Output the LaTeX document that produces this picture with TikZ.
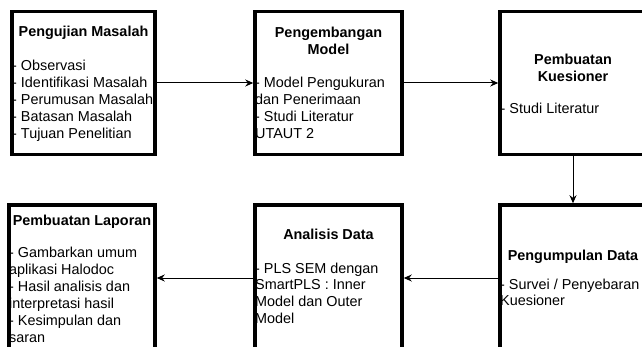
\documentclass[tikz,border=0pt]{standalone}
\usepackage{fontspec}
\setmainfont{Liberation Sans}
\usetikzlibrary{arrows.meta,calc}
\begin{document}
\begin{tikzpicture}[x=1pt,y=-1pt,
  box/.style={draw,line width=3.5pt,rectangle,minimum width=#1,minimum height=143pt,inner sep=0pt},
  lowbox/.style={box=#1,minimum height=146pt},
  ttl/.style={font=\fontsize{14.4}{16.8}\selectfont\bfseries,anchor=base,inner sep=0pt},
  itm/.style={font=\fontsize{14.4}{16.8}\selectfont,anchor=base west,inner sep=0pt},
  conn/.style={line width=1pt,-{Stealth[length=8pt,width=7pt]}}]
\useasboundingbox (0,0) rectangle (642,347);
\clip (0,0) rectangle (642,347);
% boxes
\node[box=143pt] (b1) at (83.5,83) {};
\node[box=147pt] (b2) at (328.5,83) {};
\node[box=146pt] (b3) at (573,83) {};
\node[lowbox=146pt] (b4) at (573,278) {};
\node[lowbox=147pt] (b5) at (328.5,278) {};
\node[lowbox=146pt] (b6) at (82,278) {};
% box 1
\node[ttl] (t1) at (83.5,37) {Pengujian Masalah};
\foreach \s [count=\i] in {- Observasi,- Identifikasi Masalah,- Perumusan Masalah,- Batasan Masalah,- Tujuan Penelitian}
  \node[itm] (b1i\i) at (12,{71+16.8*(\i-1)}) {\s};
% box 2
\node[ttl] (t2a) at (328.5,38) {Pengembangan};
\node[ttl] (t2b) at (328.5,54.8) {Model};
\foreach \s [count=\i] in {- Model Pengukuran,dan Penerimaan,- Studi Literatur,UTAUT 2}
  \node[itm] (b2i\i) at (255,{88+16.8*(\i-1)}) {\s};
% box 3
\node[ttl] (t3a) at (573,65) {Pembuatan};
\node[ttl] (t3b) at (573,81.8) {Kuesioner};
\node[itm] (b3i1) at (500.5,114) {- Studi Literatur};
% box 4
\node[ttl] (t4) at (573,261) {Pengumpulan Data};
\foreach \s [count=\i] in {{- Survei / Penyebaran},Kuesioner}
  \node[itm] (b4i\i) at (500,{289+16.8*(\i-1)}) {\s};
% box 5
\node[ttl] (t5) at (328.5,240) {Analisis Data};
\foreach \s [count=\i] in {- PLS SEM dengan,SmartPLS : Inner,Model dan Outer,Model}
  \node[itm] (b5i\i) at (255,{273+16.8*(\i-1)}) {\s};
% box 6
\node[ttl] (t6) at (82,226) {Pembuatan Laporan};
\foreach \s [count=\i] in {- Gambarkan umum,aplikasi Halodoc,- Hasil analisis dan,interpretasi hasil,- Kesimpulan dan,saran}
  \node[itm] (b6i\i) at (9,{258+16.8*(\i-1)}) {\s};
% connectors
\draw[conn] (b1.east) -- (b2.west);
\draw[conn] (b2.east) -- (b3.west);
\draw[conn] (b3.south) -- (b4.north);
\draw[conn] (b4.west) -- (b5.east);
\draw[conn] (b5.west) -- (b6.east);
\end{tikzpicture}
\end{document}
